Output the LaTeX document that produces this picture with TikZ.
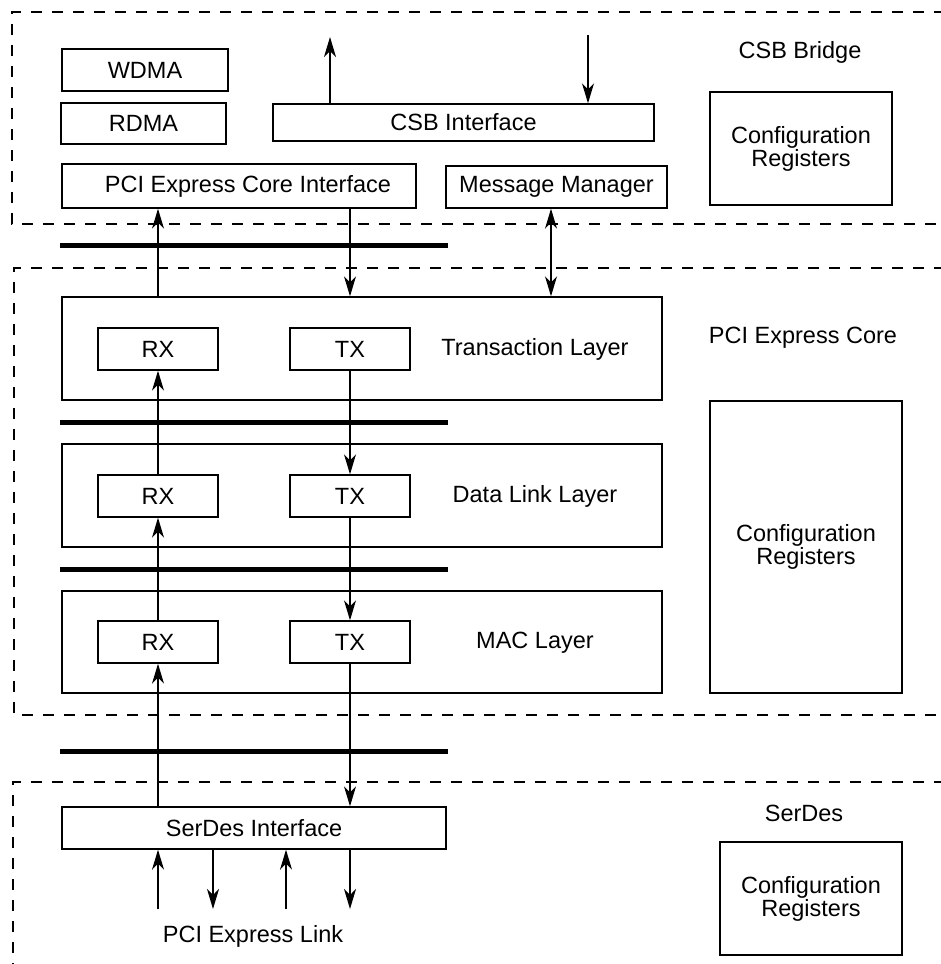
\documentclass[tikz,border=0pt]{standalone}
\usepackage{fontspec}
\setmainfont{Liberation Sans}
\usetikzlibrary{arrows.meta}
\begin{document}
\begin{tikzpicture}[x=1pt,y=-1pt,
  box/.style={draw, line width=1.4pt, inner sep=0pt, align=center,
    font=\fontsize{23.5}{23}\selectfont},
  lbl/.style={inner sep=0pt, align=center, font=\fontsize{23.5}{23}\selectfont},
  region/.style={draw, line width=1.8pt, dash pattern=on 11pt off 10pt},
  bar/.style={line width=5pt},
  arr/.style={line width=1.4pt, -{Stealth[length=20pt,width=12pt,inset=6pt]}},
  darr/.style={line width=1.4pt, {Stealth[length=20pt,width=12pt,inset=6pt]}-{Stealth[length=20pt,width=12pt,inset=6pt]}}]
\useasboundingbox (0,0) rectangle (940,964);
% regions
\draw[region] (945,12) -| (12,224) -- (945,224);
\draw[region] (945,268) -| (14,715) -- (945,715);
\draw[region] (945,782) -| (13,975);
% bars
\draw[bar] (60,245) -- (448,245);
\draw[bar] (60,422) -- (448,422);
\draw[bar] (60,569) -- (448,569);
\draw[bar] (60,751) -- (448,751);
% CSB bridge
\node[box, minimum width=166pt, minimum height=42pt] (wdma) at (145,70) {WDMA};
\node[box, minimum width=165pt, minimum height=41pt] (rdma) at (143.5,123.5) {RDMA};
\node[box, minimum width=381pt, minimum height=37pt] (csb) at (463.5,122.5) {CSB Interface};
\node[box, minimum width=354pt, minimum height=44pt] (pci) at (239,186) {\hspace{18pt}PCI Express Core Interface};
\node[box, minimum width=221pt, minimum height=42pt] (msg) at (556.5,187) {Message Manager};
\node[box, minimum width=182pt, minimum height=113pt] (cfga) at (801,148.5) {Configuration\\Registers};
\node[lbl] (lcsb) at (800,52) {CSB Bridge};
\coordinate (csbup) at (330,37);
\coordinate (csbdn) at (588,35);
\draw[arr] (csb.north -| csbup) -- (csbup);
\draw[arr] (csbdn) -- (csb.north -| csbdn);
% PCI Express core
\node[box, minimum width=600pt, minimum height=103pt] (tl) at (362,348.5) {};
\node[box, minimum width=600pt, minimum height=103pt] (dl) at (362,495.5) {};
\node[box, minimum width=600pt, minimum height=102pt] (mac) at (362,642) {};
\node[box, minimum width=120pt, minimum height=42pt] (rx1) at (158,349) {RX};
\node[box, minimum width=120pt, minimum height=42pt] (tx1) at (350,349) {TX};
\node[box, minimum width=120pt, minimum height=42pt] (rx2) at (158,496) {RX};
\node[box, minimum width=120pt, minimum height=42pt] (tx2) at (350,496) {TX};
\node[box, minimum width=120pt, minimum height=42pt] (rx3) at (158,642) {RX};
\node[box, minimum width=120pt, minimum height=42pt] (tx3) at (350,642) {TX};
\node[lbl] (ltl) at (535,349) {Transaction Layer};
\node[lbl] (ldl) at (535,496) {Data Link Layer};
\node[lbl] (lmac) at (535,643) {MAC Layer};
\node[lbl] (lcore) at (803,338) {PCI Express Core};
\node[box, minimum width=192pt, minimum height=292pt] (cfgb) at (806,547) {Configuration\\Registers};
% vertical connectors
\draw[arr] (tl.north -| rx1) -- (pci.south -| rx1);
\draw[arr] (pci.south -| tx1) -- (tl.north -| tx1);
\coordinate (mx) at (551,0);
\draw[darr] (msg.south -| mx) -- (tl.north -| mx);
\draw[arr] (rx2.north) -- (rx1.south);
\draw[arr] (tx1.south) -- (tx2.north);
\draw[arr] (rx3.north) -- (rx2.south);
\draw[arr] (tx2.south) -- (tx3.north);
% SerDes
\node[box, minimum width=384pt, minimum height=42pt] (sd) at (254,828) {SerDes Interface};
\node[lbl] (lsd) at (804,813) {SerDes};
\node[box, minimum width=182pt, minimum height=113pt] (cfgc) at (811,898.5) {Configuration\\Registers};
\node[lbl] (llink) at (253,936) {PCI Express Link};
\draw[arr] (sd.north -| rx3) -- (rx3.south);
\draw[arr] (tx3.south) -- (sd.north -| tx3);
\coordinate (l1) at (158,909);
\coordinate (l2) at (213,909);
\coordinate (l3) at (286,909);
\coordinate (l4) at (350,909);
\draw[arr] (l1) -- (sd.south -| l1);
\draw[arr] (sd.south -| l2) -- (l2);
\draw[arr] (l3) -- (sd.south -| l3);
\draw[arr] (sd.south -| l4) -- (l4);
\end{tikzpicture}
\end{document}
